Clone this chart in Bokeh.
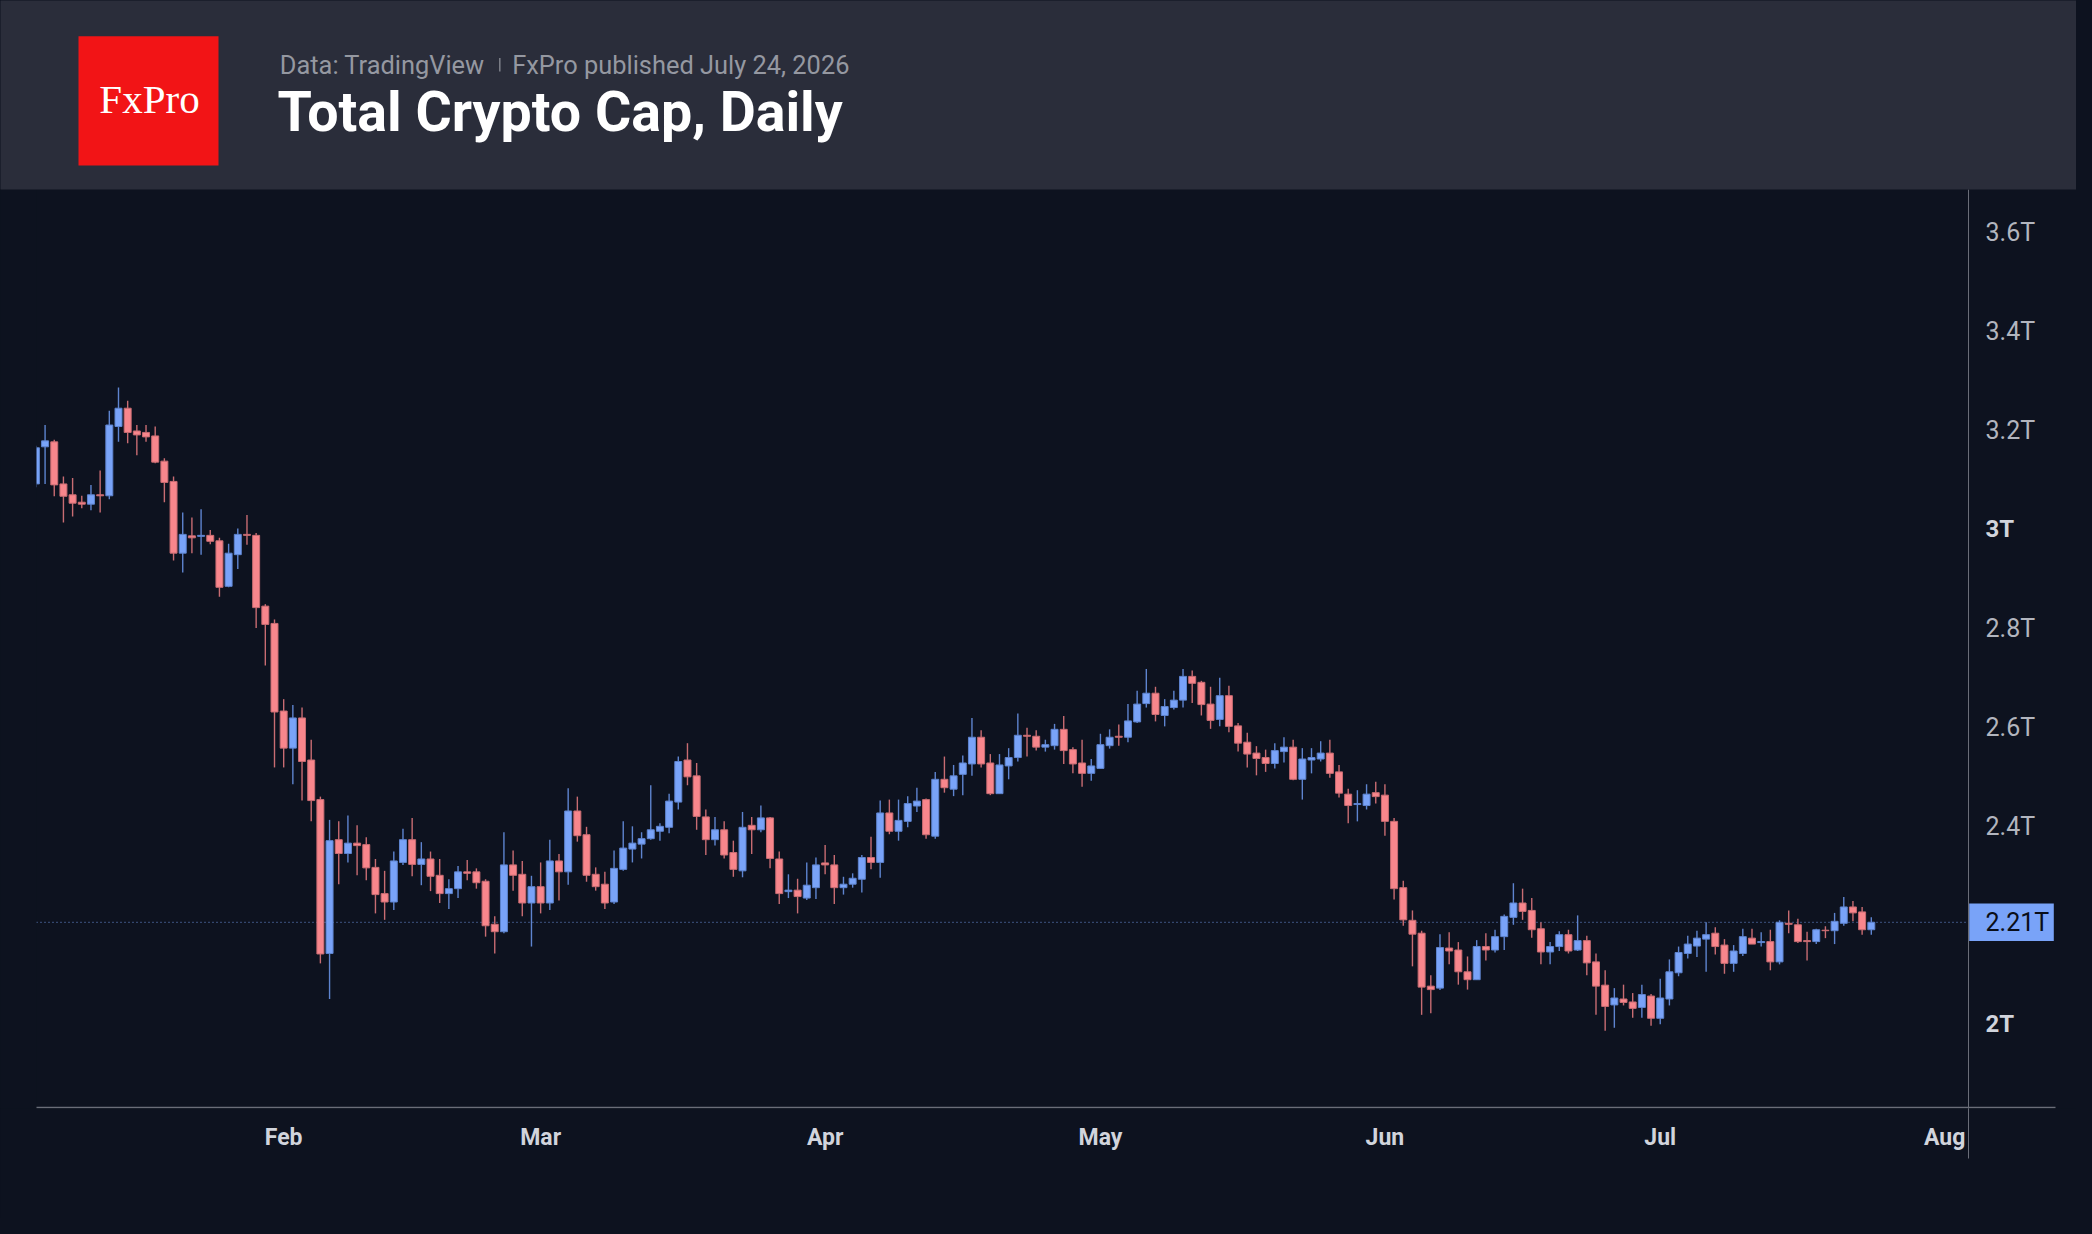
import pandas as pd
from bokeh.plotting import figure
from bokeh.models import ColumnDataSource, Range1d, FixedTicker
from bokeh.core.properties import value
from bokeh.embed import file_html
from bokeh.resources import INLINE

# ---------------- data (Total crypto market cap, trillions USD, daily) ----------------
start_date = "2026-01-05"

opens = [3.092, 3.167, 3.177, 3.092, 3.070, 3.055, 3.051, 3.070, 3.068, 3.208,
         3.245, 3.199, 3.196, 3.189, 3.138, 3.097, 2.952, 2.987, 2.986, 2.988,
         2.977, 2.885, 2.949, 2.990, 2.988, 2.845, 2.810, 2.633, 2.558, 2.619,
         2.534, 2.454, 2.143, 2.373, 2.345, 2.366, 2.363, 2.317, 2.264, 2.247,
         2.327, 2.373, 2.323, 2.334, 2.301, 2.264, 2.274, 2.308, 2.308, 2.289,
         2.202, 2.187, 2.322, 2.303, 2.245, 2.278, 2.245, 2.330, 2.308, 2.431,
         2.383, 2.303, 2.283, 2.247, 2.313, 2.354, 2.364, 2.375, 2.390, 2.398,
         2.449, 2.534, 2.502, 2.419, 2.373, 2.393, 2.347, 2.310, 2.402, 2.393,
         2.417, 2.334, 2.268, 2.271, 2.255, 2.276, 2.326, 2.322, 2.276, 2.283,
         2.293, 2.337, 2.327, 2.427, 2.390, 2.410, 2.441, 2.454, 2.380, 2.495,
         2.475, 2.505, 2.526, 2.580, 2.528, 2.466, 2.522, 2.539, 2.584, 2.582,
         2.560, 2.563, 2.596, 2.555, 2.528, 2.507, 2.517, 2.563, 2.582, 2.580,
         2.611, 2.648, 2.669, 2.624, 2.640, 2.655, 2.703, 2.691, 2.647, 2.616,
         2.664, 2.603, 2.570, 2.548, 2.539, 2.527, 2.551, 2.560, 2.495, 2.534,
         2.536, 2.548, 2.510, 2.465, 2.444, 2.442, 2.468, 2.463, 2.410, 2.276,
         2.210, 2.184, 2.077, 2.073, 2.154, 2.150, 2.106, 2.090, 2.157, 2.150,
         2.177, 2.216, 2.245, 2.230, 2.193, 2.146, 2.157, 2.181, 2.150, 2.169,
         2.126, 2.079, 2.039, 2.051, 2.045, 2.034, 2.057, 2.012, 2.051, 2.104,
         2.143, 2.158, 2.172, 2.184, 2.160, 2.123, 2.143, 2.174, 2.165, 2.167,
         2.126, 2.204, 2.201, 2.169, 2.167, 2.190, 2.189, 2.204, 2.237, 2.227,
         2.191]

highs = [3.169, 3.211, 3.181, 3.107, 3.104, 3.068, 3.090, 3.119, 3.240, 3.287,
         3.260, 3.211, 3.211, 3.208, 3.144, 3.107, 3.034, 3.024, 3.041, 2.999,
         2.983, 2.971, 3.002, 3.029, 2.993, 2.849, 2.818, 2.657, 2.645, 2.640,
         2.575, 2.460, 2.413, 2.410, 2.422, 2.402, 2.378, 2.334, 2.310, 2.349,
         2.395, 2.417, 2.368, 2.349, 2.334, 2.293, 2.320, 2.332, 2.315, 2.293,
         2.218, 2.388, 2.351, 2.330, 2.300, 2.327, 2.373, 2.344, 2.477, 2.460,
         2.399, 2.317, 2.308, 2.351, 2.410, 2.400, 2.388, 2.483, 2.406, 2.466,
         2.541, 2.568, 2.528, 2.434, 2.419, 2.410, 2.371, 2.429, 2.419, 2.442,
         2.419, 2.349, 2.303, 2.294, 2.327, 2.337, 2.362, 2.342, 2.298, 2.305,
         2.342, 2.379, 2.452, 2.454, 2.454, 2.461, 2.478, 2.456, 2.510, 2.541,
         2.524, 2.543, 2.619, 2.594, 2.546, 2.546, 2.558, 2.628, 2.599, 2.594,
         2.575, 2.607, 2.623, 2.560, 2.575, 2.536, 2.587, 2.596, 2.606, 2.647,
         2.674, 2.718, 2.682, 2.657, 2.674, 2.718, 2.715, 2.694, 2.682, 2.700,
         2.684, 2.609, 2.589, 2.562, 2.555, 2.568, 2.580, 2.575, 2.558, 2.558,
         2.572, 2.575, 2.524, 2.476, 2.473, 2.485, 2.490, 2.485, 2.417, 2.290,
         2.230, 2.189, 2.099, 2.182, 2.186, 2.166, 2.137, 2.170, 2.184, 2.191,
         2.222, 2.285, 2.274, 2.255, 2.206, 2.166, 2.188, 2.191, 2.220, 2.179,
         2.143, 2.109, 2.073, 2.080, 2.063, 2.080, 2.061, 2.092, 2.131, 2.157,
         2.179, 2.189, 2.206, 2.196, 2.172, 2.160, 2.193, 2.193, 2.186, 2.191,
         2.210, 2.230, 2.213, 2.187, 2.193, 2.198, 2.225, 2.257, 2.249, 2.237,
         2.216]

lows = [3.085, 3.092, 3.067, 3.014, 3.026, 3.043, 3.039, 3.034, 3.061, 3.177,
        3.174, 3.150, 3.177, 3.134, 3.055, 2.937, 2.913, 2.952, 2.949, 2.970,
        2.864, 2.883, 2.920, 2.969, 2.801, 2.725, 2.519, 2.519, 2.485, 2.452,
        2.410, 2.123, 2.051, 2.283, 2.327, 2.301, 2.291, 2.224, 2.211, 2.231,
        2.322, 2.299, 2.281, 2.269, 2.245, 2.233, 2.255, 2.291, 2.274, 2.177,
        2.143, 2.184, 2.270, 2.218, 2.157, 2.224, 2.231, 2.250, 2.282, 2.369,
        2.288, 2.270, 2.233, 2.243, 2.310, 2.327, 2.335, 2.373, 2.371, 2.386,
        2.434, 2.483, 2.393, 2.342, 2.361, 2.335, 2.298, 2.297, 2.344, 2.388,
        2.315, 2.243, 2.255, 2.224, 2.251, 2.253, 2.303, 2.243, 2.262, 2.276,
        2.266, 2.313, 2.296, 2.384, 2.371, 2.398, 2.429, 2.375, 2.375, 2.468,
        2.461, 2.463, 2.502, 2.519, 2.463, 2.466, 2.495, 2.531, 2.541, 2.553,
        2.551, 2.555, 2.526, 2.507, 2.480, 2.492, 2.517, 2.557, 2.563, 2.570,
        2.609, 2.640, 2.612, 2.602, 2.636, 2.640, 2.649, 2.624, 2.597, 2.602,
        2.590, 2.551, 2.519, 2.503, 2.510, 2.517, 2.529, 2.493, 2.454, 2.507,
        2.531, 2.498, 2.458, 2.406, 2.410, 2.434, 2.446, 2.381, 2.252, 2.199,
        2.117, 2.019, 2.022, 2.069, 2.121, 2.080, 2.070, 2.090, 2.129, 2.145,
        2.150, 2.201, 2.211, 2.175, 2.121, 2.121, 2.148, 2.143, 2.148, 2.099,
        2.019, 1.987, 1.993, 2.038, 2.013, 2.013, 1.997, 2.000, 2.038, 2.097,
        2.133, 2.136, 2.106, 2.141, 2.102, 2.106, 2.138, 2.162, 2.157, 2.109,
        2.121, 2.184, 2.164, 2.129, 2.162, 2.174, 2.162, 2.199, 2.208, 2.181,
        2.181]

closes = [3.165, 3.179, 3.090, 3.067, 3.053, 3.051, 3.070, 3.068, 3.211, 3.245,
          3.196, 3.191, 3.187, 3.136, 3.095, 2.952, 2.990, 2.983, 2.988, 2.976,
          2.883, 2.952, 2.990, 2.988, 2.842, 2.808, 2.631, 2.558, 2.619, 2.531,
          2.452, 2.142, 2.371, 2.345, 2.366, 2.361, 2.316, 2.262, 2.247, 2.330,
          2.373, 2.323, 2.334, 2.299, 2.264, 2.274, 2.308, 2.305, 2.286, 2.199,
          2.187, 2.322, 2.301, 2.245, 2.278, 2.245, 2.330, 2.308, 2.431, 2.381,
          2.301, 2.278, 2.245, 2.315, 2.356, 2.366, 2.375, 2.393, 2.400, 2.451,
          2.531, 2.500, 2.420, 2.373, 2.393, 2.342, 2.313, 2.398, 2.393, 2.417,
          2.335, 2.264, 2.271, 2.258, 2.281, 2.322, 2.322, 2.276, 2.283, 2.295,
          2.337, 2.327, 2.427, 2.390, 2.412, 2.446, 2.451, 2.383, 2.495, 2.478,
          2.502, 2.528, 2.580, 2.526, 2.466, 2.524, 2.539, 2.584, 2.582, 2.560,
          2.565, 2.596, 2.553, 2.526, 2.507, 2.522, 2.565, 2.580, 2.580, 2.613,
          2.647, 2.669, 2.626, 2.642, 2.655, 2.703, 2.689, 2.646, 2.614, 2.664,
          2.602, 2.568, 2.546, 2.537, 2.527, 2.553, 2.560, 2.495, 2.536, 2.539,
          2.548, 2.507, 2.467, 2.442, 2.446, 2.465, 2.460, 2.410, 2.274, 2.211,
          2.182, 2.075, 2.070, 2.155, 2.148, 2.106, 2.090, 2.157, 2.150, 2.177,
          2.218, 2.245, 2.228, 2.191, 2.146, 2.157, 2.181, 2.148, 2.169, 2.124,
          2.077, 2.036, 2.053, 2.044, 2.032, 2.060, 2.012, 2.053, 2.106, 2.145,
          2.162, 2.174, 2.181, 2.157, 2.123, 2.148, 2.177, 2.162, 2.167, 2.126,
          2.206, 2.202, 2.167, 2.167, 2.191, 2.189, 2.208, 2.237, 2.225, 2.191,
          2.206]

price_ticks = [2.0, 2.4, 2.6, 2.8, 3.0, 3.2, 3.4, 3.6]
price_tick_labels = ["2T", "2.4T", "2.6T", "2.8T", "3T", "3.2T", "3.4T", "3.6T"]
bold_price_ticks = [2.0, 3.0]
month_starts = ["2026-02-01", "2026-03-01", "2026-04-01", "2026-05-01",
                "2026-06-01", "2026-07-01", "2026-08-01"]
month_labels = ["Feb", "Mar", "Apr", "May", "Jun", "Jul", "Aug"]
last_price_label = "2.21T"

# ---------------- styling / geometry (canvas pixels) ----------------
W, H = 2076, 1218
HEADER_H = 189        # header band height
CHART_L = 36          # left edge of the candle area / time-axis line
AXIS_R = 2055         # right end of the time-axis line
SCALE_X = 1968        # x of the price-scale line
FRAME_B = 1108        # y of the time-axis line
BG = "#0d121f"
HEADER_BG = "#2a2d3a"
LOGO_RED = "#f21416"
UP = "#79a3f8"
DOWN = "#f8868c"
UP_EDGE = "#5e84cf"
DOWN_EDGE = "#c86c72"
AXIS = "#6a6d78"
LABEL = "#b2b5be"
LABEL_BRIGHT = "#d1d4dc"
SUB = "#9598a1"

DAY_MS = 86400000
PX_PER_DAY = 9.177
FIRST_PX = 35.4          # x of the first candle

y_lo, y_hi = 1.8297, 3.687      # values at the time axis and at the header bottom
T_PER_PX = (y_hi - y_lo) / (FRAME_B - HEADER_H)
Y_TOP = y_hi + HEADER_H * T_PER_PX

dates = pd.date_range(start_date, periods=len(opens), freq="D")
t0_ms = pd.Timestamp(start_date).value // 10**6


def px_to_ms(px):
    return t0_ms + (px - FIRST_PX) / PX_PER_DAY * DAY_MS


def py_to_val(py):
    return Y_TOP - py * T_PER_PX


p = figure(width=W, height=H, x_axis_type="datetime",
           x_range=Range1d(px_to_ms(0), px_to_ms(W)), y_range=Range1d(y_lo, Y_TOP),
           y_axis_location="right", output_backend="svg", toolbar_location=None,
           min_border_left=0, min_border_right=0, min_border_top=0,
           min_border_bottom=H - FRAME_B)
p.grid.visible = False
p.background_fill_color = BG
p.border_fill_color = BG
p.outline_line_color = None

# ---------------- candles ----------------
up = [c >= o for o, c in zip(opens, closes)]
src = ColumnDataSource(dict(
    date=dates,
    open=opens, high=highs, low=lows, close=closes,
    top=[max(o, c) for o, c in zip(opens, closes)],
    bottom=[min(o, c) for o, c in zip(opens, closes)],
    color=[UP if u else DOWN for u in up],
    edge=[UP_EDGE if u else DOWN_EDGE for u in up],
))

scale_ms = px_to_ms(SCALE_X)
label_ms = px_to_ms(1985)

# price-scale separator line
p.segment(x0=[scale_ms], y0=[y_lo - 0.1], x1=[scale_ms], y1=[y_hi], line_color=AXIS, line_width=1)

# last price dotted line
p.segment(x0=[px_to_ms(CHART_L)], y0=[closes[-1]], x1=[scale_ms], y1=[closes[-1]], line_color=UP,
          line_width=1, line_dash="1 3", line_alpha=0.9)

p.segment(x0="date", y0="low", x1="date", y1="high", source=src,
          line_color="edge", line_width=1.4)
p.vbar(x="date", width=0.76 * DAY_MS, top="top", bottom="bottom", source=src,
       fill_color="color", line_color="edge", line_width=1)

# the candle area starts at CHART_L: mask anything left of it
p.quad(left=[px_to_ms(-5)], right=[px_to_ms(CHART_L)], top=[y_hi], bottom=[y_lo - 0.1],
       fill_color=BG, line_color=None)

# time-axis line
axis_y = y_lo + 1.0 * T_PER_PX
p.segment(x0=[px_to_ms(CHART_L)], y0=[axis_y], x1=[px_to_ms(AXIS_R)], y1=[axis_y],
          line_color=AXIS, line_width=1.5)

# last price marker
half_box = 18.7 * T_PER_PX
p.quad(left=[px_to_ms(SCALE_X + 0.7)], right=[px_to_ms(2053.3)],
       top=[closes[-1] + half_box], bottom=[closes[-1] - half_box],
       fill_color=UP, line_color=None)
p.text(x=[label_ms], y=[closes[-1]], text=[last_price_label], text_font=value("Roboto"),
       text_font_size="25px", text_color="#0a0e18", text_align="left",
       text_baseline="middle")

# bold round-number price labels
bold_labels = [lab for t, lab in zip(price_ticks, price_tick_labels) if t in bold_price_ticks]
p.text(x=[label_ms] * len(bold_labels), y=bold_price_ticks, text=bold_labels,
       text_font=value("Roboto"), text_font_size="24px", text_font_style="bold",
       text_color=LABEL_BRIGHT, text_align="left", text_baseline="middle")

# ---------------- header band ----------------
p.quad(left=[px_to_ms(-5)], right=[px_to_ms(W + 5)], top=[py_to_val(-5)],
       bottom=[py_to_val(HEADER_H)], fill_color=HEADER_BG, line_color=None)
p.quad(left=[px_to_ms(78)], right=[px_to_ms(218)], top=[py_to_val(35.7)],
       bottom=[py_to_val(165)], fill_color=LOGO_RED, line_color=None)
p.text(x=[px_to_ms(149)], y=[py_to_val(98.5)], text=["FxPro"],
       text_font=value("Liberation Serif"), text_font_size="41px", text_color="#ffffff",
       text_align="center", text_baseline="middle")
p.text(x=[px_to_ms(279.3)], y=[py_to_val(64)], text=["Data: TradingView"],
       text_font=value("Roboto"), text_font_size="25.4px", text_color=SUB,
       text_baseline="middle")
p.segment(x0=[px_to_ms(499.3)], y0=[py_to_val(57.5)], x1=[px_to_ms(499.3)],
          y1=[py_to_val(71)], line_color="#7d808a", line_width=1.5)
p.text(x=[px_to_ms(511.7)], y=[py_to_val(64)], text=["FxPro published July 24, 2026"],
       text_font=value("Roboto"), text_font_size="25.4px", text_color=SUB,
       text_baseline="middle")
p.text(x=[px_to_ms(277)], y=[py_to_val(112.2)], text=["Total Crypto Cap, Daily"],
       text_font=value("Roboto"), text_font_size="55.5px", text_font_style="bold",
       text_color="#ffffff", text_baseline="middle")

# ---------------- x axis (time) ----------------
month_ms = [pd.Timestamp(m).value // 10**6 for m in month_starts]
xa = p.xaxis[0]
xa.ticker = FixedTicker(ticks=month_ms, minor_ticks=[scale_ms])
xa.major_label_overrides = {ms: lab for ms, lab in zip(month_ms, month_labels)}
xa.axis_line_color = None
xa.major_tick_line_color = None
xa.major_tick_out = 0
xa.major_tick_in = 0
xa.minor_tick_line_color = AXIS
xa.minor_tick_line_width = 1
xa.minor_tick_in = 0
xa.minor_tick_out = 50
xa.major_label_standoff = -35
xa.major_label_text_font = "Roboto"
xa.major_label_text_font_size = "23px"
xa.major_label_text_font_style = "bold"
xa.major_label_text_color = LABEL_BRIGHT

# ---------------- y axis (price) - labels next to the price-scale line ----------------
ya = p.yaxis[0]
ya.ticker = FixedTicker(ticks=price_ticks)
ya.major_label_overrides = {t: ("" if t in bold_price_ticks else lab)
                            for t, lab in zip(price_ticks, price_tick_labels)}
ya.axis_line_color = None
ya.major_tick_line_color = None
ya.minor_tick_line_color = None
ya.major_tick_out = 0
ya.major_tick_in = 0
ya.major_label_standoff = 1985 - W
ya.major_label_text_font = "Roboto"
ya.major_label_text_font_size = "25px"
ya.major_label_text_color = LABEL

html = file_html(p, INLINE, title="Total Crypto Cap, Daily")
html = html.replace("</head>", "<style>html, body { background-color: #0d121f; }</style></head>", 1)
open("out.html", "w").write(html)
